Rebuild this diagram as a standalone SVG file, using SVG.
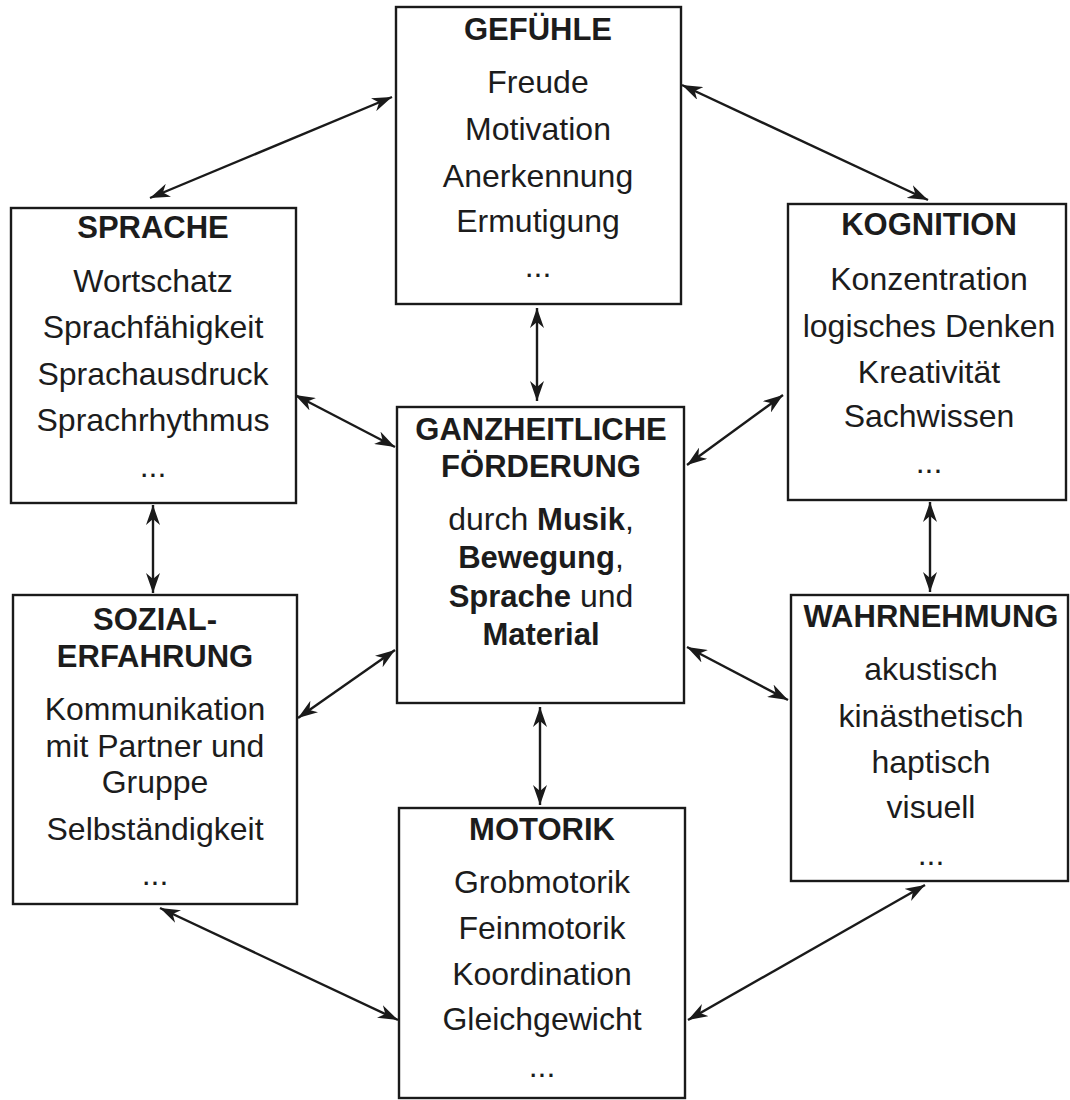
<svg xmlns="http://www.w3.org/2000/svg" width="1070" height="1100" viewBox="0 0 1070 1100">
<style>
.box{fill:#fff;stroke:#1a1a1a;stroke-width:2.4}
.t{font-family:"Liberation Sans",Arial,sans-serif;font-size:32px;fill:#1c1c1c;text-anchor:middle}
.b{font-weight:bold;font-size:31px}
.c{stroke:#1a1a1a;stroke-width:2.4;fill:none;marker-start:url(#ah);marker-end:url(#ah)}
</style>
<defs>
<marker id="ah" markerUnits="userSpaceOnUse" markerWidth="22" markerHeight="14" refX="20" refY="7" orient="auto-start-reverse" viewBox="0 0 22 14">
<path d="M0,0 L20,7 L0,14 L6,7 z" fill="#1a1a1a"/>
</marker>
</defs>
<rect width="1070" height="1100" fill="#fff"/>
<g id="connectors">
<line class="c" x1="392" y1="97" x2="150" y2="198"/>
<line class="c" x1="682" y1="85" x2="928" y2="200"/>
<line class="c" x1="537" y1="308" x2="537" y2="401"/>
<line class="c" x1="295" y1="395" x2="395" y2="447"/>
<line class="c" x1="783" y1="395" x2="687" y2="465"/>
<line class="c" x1="395" y1="650" x2="298" y2="718"/>
<line class="c" x1="687" y1="647" x2="788" y2="700"/>
<line class="c" x1="540" y1="707" x2="540" y2="805"/>
<line class="c" x1="153" y1="505" x2="153" y2="593"/>
<line class="c" x1="930" y1="502" x2="930" y2="592"/>
<line class="c" x1="160" y1="908" x2="398" y2="1020"/>
<line class="c" x1="925" y1="885" x2="688" y2="1020"/>
</g>
<g id="gefuehle">
<rect class="box" x="396" y="7" width="285" height="297"/>
<text class="t b" x="538" y="40">GEFÜHLE</text>
<text class="t" x="538" y="93">Freude</text>
<text class="t" x="538" y="140">Motivation</text>
<text class="t" x="538" y="187">Anerkennung</text>
<text class="t" x="538" y="232">Ermutigung</text>
<text class="t" x="538" y="277">...</text>
</g>
<g id="sprache">
<rect class="box" x="11" y="208" width="285" height="295"/>
<text class="t b" x="153" y="238">SPRACHE</text>
<text class="t" x="153" y="292">Wortschatz</text>
<text class="t" x="153" y="338">Sprachfähigkeit</text>
<text class="t" x="153" y="385">Sprachausdruck</text>
<text class="t" x="153" y="431">Sprachrhythmus</text>
<text class="t" x="153" y="477">...</text>
</g>
<g id="kognition">
<rect class="box" x="788" y="204" width="278" height="296"/>
<text class="t b" x="929" y="235">KOGNITION</text>
<text class="t" x="929" y="290">Konzentration</text>
<text class="t" x="929" y="337">logisches Denken</text>
<text class="t" x="929" y="383">Kreativität</text>
<text class="t" x="929" y="427">Sachwissen</text>
<text class="t" x="929" y="473">...</text>
</g>
<g id="ganzheitliche">
<rect class="box" x="397" y="407" width="287" height="296"/>
<text class="t b" x="541" y="440">GANZHEITLICHE</text>
<text class="t b" x="541" y="477">FÖRDERUNG</text>
<text class="t" x="541" y="530">durch <tspan class="b" font-size="32">Musik</tspan>,</text>
<text class="t" x="541" y="568"><tspan class="b" font-size="32">Bewegung</tspan>,</text>
<text class="t" x="541" y="607"><tspan class="b" font-size="32">Sprache</tspan> und</text>
<text class="t b" x="541" y="645" font-size="32">Material</text>
</g>
<g id="sozialerfahrung">
<rect class="box" x="13" y="595" width="284" height="309"/>
<text class="t b" x="155" y="630">SOZIAL-</text>
<text class="t b" x="155" y="667">ERFAHRUNG</text>
<text class="t" x="155" y="720">Kommunikation</text>
<text class="t" x="155" y="757">mit Partner und</text>
<text class="t" x="155" y="793">Gruppe</text>
<text class="t" x="155" y="840">Selbständigkeit</text>
<text class="t" x="155" y="885">...</text>
</g>
<g id="wahrnehmung">
<rect class="box" x="791" y="595" width="277" height="286"/>
<text class="t b" x="931" y="627">WAHRNEHMUNG</text>
<text class="t" x="931" y="680">akustisch</text>
<text class="t" x="931" y="727">kinästhetisch</text>
<text class="t" x="931" y="773">haptisch</text>
<text class="t" x="931" y="818">visuell</text>
<text class="t" x="931" y="865">...</text>
</g>
<g id="motorik">
<rect class="box" x="399" y="808" width="286" height="290"/>
<text class="t b" x="542" y="840">MOTORIK</text>
<text class="t" x="542" y="893">Grobmotorik</text>
<text class="t" x="542" y="939">Feinmotorik</text>
<text class="t" x="542" y="985">Koordination</text>
<text class="t" x="542" y="1030">Gleichgewicht</text>
<text class="t" x="542" y="1077">...</text>
</g>
</svg>
